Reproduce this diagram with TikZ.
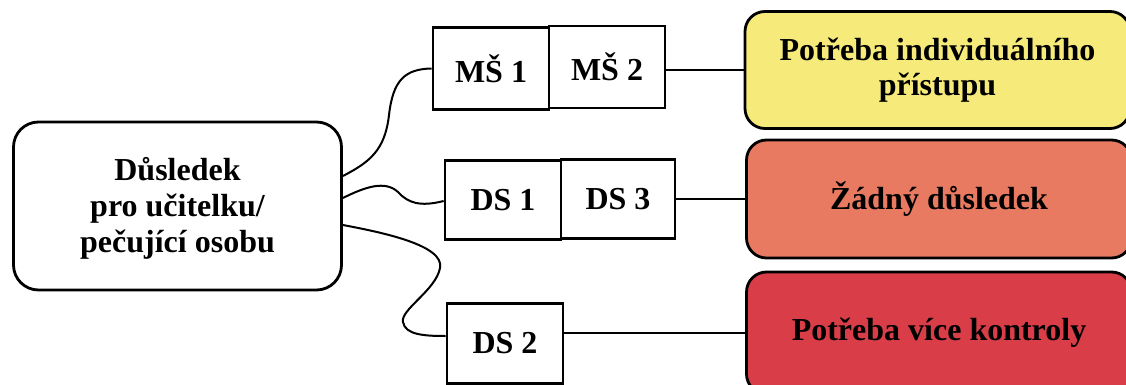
\documentclass[tikz,border=0pt]{standalone}
\usepackage{fontspec}
\setmainfont{Liberation Serif}
\definecolor{cyellow}{RGB}{246,235,122}
\definecolor{corange}{RGB}{232,122,98}
\definecolor{cred}{RGB}{217,62,72}
\begin{document}
\begin{tikzpicture}[x=1pt,y=-1pt,
  mainbox/.style={draw,line width=2.8pt,rounded corners=25pt,minimum width=328pt,minimum height=168pt,align=center,inner sep=0pt,font=\bfseries\fontsize{32}{36}\selectfont},
  codebox/.style={draw,line width=2.7pt,minimum width=116pt,minimum height=82pt,inner sep=0pt,font=\bfseries\fontsize{32}{36}\selectfont},
  resbox/.style={draw,line width=2.8pt,rounded corners=20pt,minimum width=385pt,minimum height=117pt,align=center,inner sep=0pt,font=\bfseries\fontsize{32}{35}\selectfont},
  conn/.style={line width=2pt}]
\clip (0,0) rectangle (1126,385);
\fill[white] (0,0) rectangle (1126,385);
\node[mainbox] (main) at (177.5,206) {\raisebox{-3.5pt}[\height][\depth]{\begin{tabular}{@{}c@{}}Důsledek\\pro učitelku/\\pečující osobu\end{tabular}}};
\node[codebox] (ms1) at (491,68.5) {MŠ 1};
\node[codebox] (ms2) at (607,67) {MŠ 2};
\node[codebox,minimum height=79pt] (ds1) at (503,200) {DS 1};
\node[codebox,minimum width=114pt,minimum height=79pt] (ds3) at (618,199) {DS 3};
\node[codebox,minimum height=80pt] (ds2) at (505,343.3) {DS 2};
\node[resbox,fill=cyellow] (y) at (937.5,70) {Potřeba individuálního\\přístupu};
\node[resbox,fill=corange,minimum height=118pt] (o) at (939,199) {Žádný důsledek};
\node[resbox,fill=cred,minimum height=122pt] (r) at (939,333) {Potřeba více kontroly};
\draw[conn] ([yshift=30pt]main.east) .. controls (370,162) and (385,150) .. (389,115)
  .. controls (393,80) and (405,69) .. (ms1.west);
\draw[conn] ([yshift=8pt]main.east) .. controls (365,187) and (385,180) .. (398,192)
  .. controls (408,203) and (420,207) .. ([yshift=-1pt]ds1.west);
\draw[conn] ([yshift=-19pt]main.east) .. controls (380,232) and (445,245) .. (440,268)
  .. controls (436,290) and (400,310) .. (403,322)
  .. controls (405,335) and (425,336) .. ([yshift=7.3pt]ds2.west);
\draw[conn] (ms2.east |- y.west) -- (y.west);
\draw[conn] (ds3.east |- o.west) -- (o.west);
\draw[conn] (ds2.east |- r.west) -- (r.west);
\end{tikzpicture}
\end{document}
